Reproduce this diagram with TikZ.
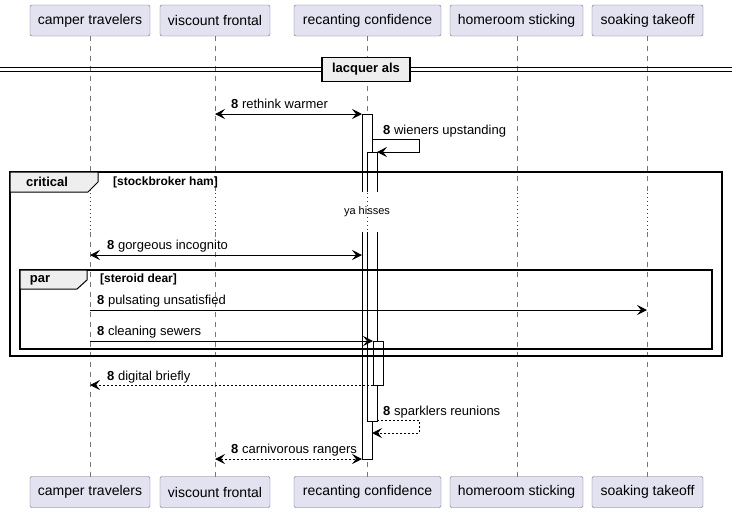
\documentclass[tikz,border=0pt]{standalone}
\usepackage{fontspec}
\setmainfont{Liberation Sans}
\usetikzlibrary{arrows.meta}
\definecolor{partfill}{HTML}{E2E2F0}
\definecolor{partdraw}{HTML}{6E6E7E}
\definecolor{lifegray}{HTML}{777777}
\definecolor{delayred}{HTML}{A80036}
\definecolor{tabfill}{HTML}{EEEEEE}
\begin{document}
\begin{tikzpicture}[x=1pt,y=-1pt,
  part/.style={draw=partdraw, fill=partfill, rounded corners=2pt, minimum height=31, inner sep=0, font=\fontsize{14}{16}\selectfont},
  lifeline/.style={draw=lifegray, line width=0.8pt, dash pattern=on 5pt off 5pt},
  delayline/.style={draw=delayred, line width=0.8pt, dash pattern=on 1pt off 3pt},
  actbox/.style={draw=black, fill=white, line width=0.9pt},
  frame/.style={draw=black, line width=1.6pt},
  tab/.style={draw=black, fill=tabfill, line width=1pt},
  msg/.style={draw=black, line width=0.9pt, -{Stealth[length=10pt,width=10pt,inset=4pt]}},
  bimsg/.style={draw=black, line width=0.9pt, {Stealth[length=10pt,width=10pt,inset=4pt]}-{Stealth[length=10pt,width=10pt,inset=4pt]}},
  dsh/.style={dash pattern=on 2pt off 2pt},
  lbl/.style={anchor=base west, inner sep=0, font=\fontsize{13}{15}\selectfont},
  grp/.style={inner sep=0, font=\fontsize{13}{15}\selectfont\bfseries},
  guard/.style={anchor=west, inner sep=0, font=\fontsize{12}{14}\selectfont\bfseries}
]
\useasboundingbox (0,0) rectangle (738,512);
\fill[white] (0,0) rectangle (738,512);

% participants
\node[part, minimum width=120] (p1) at (90,20.5) {camper travelers};
\node[part, minimum width=110] (p2) at (215,20.5) {viscount frontal};
\node[part, minimum width=147] (p3) at (367.5,20.5) {recanting confidence};
\node[part, minimum width=133] (p4) at (516.5,20.5) {homeroom sticking};
\node[part, minimum width=111] (p5) at (647.5,20.5) {soaking takeoff};
\node[part, minimum width=120] (q1) at (90,492) {camper travelers};
\node[part, minimum width=110] (q2) at (215,492) {viscount frontal};
\node[part, minimum width=147] (q3) at (367.5,492) {recanting confidence};
\node[part, minimum width=133] (q4) at (516.5,492) {homeroom sticking};
\node[part, minimum width=111] (q5) at (647.5,492) {soaking takeoff};

% lifelines with delay gap
\foreach \x in {90,215,367,517,647} {
  \draw[lifeline] (\x,36) -- (\x,192);
  \draw[lifeline] (\x,232) -- (\x,477);
  \draw[delayline] (\x,193) -- (\x,232);
}

% divider
\draw[line width=0.9pt] (0,67) -- (732,67);
\draw[line width=0.9pt] (0,71) -- (732,71);
\node[draw=black, line width=1.5pt, fill=tabfill, minimum width=88, minimum height=24, inner sep=0, font=\fontsize{13}{15}\selectfont\bfseries] (div) at (366,69.5) {lacquer als};

% activations
\draw[actbox] (362,192) -- (362,114) -- (372,114) -- (372,192);
\draw[actbox] (362,232) -- (362,459) -- (372,459) -- (372,232);
\draw[actbox] (367,192) -- (367,152) -- (377,152) -- (377,192);
\draw[actbox] (367,232) -- (367,421) -- (377,421) -- (377,232);
\draw[actbox] (373,341) rectangle (383,385);

% delay text
\node[inner sep=1pt, font=\fontsize{11}{13}\selectfont] (delay) at (367,212) {ya hisses};

% groups
\draw[frame] (10,172) rectangle (722,356);
\draw[tab] (10,172) -- (98,172) -- (98,182) -- (88,192) -- (10,192) -- cycle;
\node[grp] (critlbl) at (47,182) {critical};
\node[guard] (critguard) at (113,182) {[stockbroker ham]};

\draw[frame] (20,270) rectangle (712,349);
\draw[tab] (20,270) -- (87,270) -- (87,280) -- (77,289) -- (20,289) -- cycle;
\node[grp] (parlbl) at (40,280) {par};
\node[guard] (parguard) at (100,279) {[steroid dear]};

% messages
\coordinate (m1a) at (215,114); \coordinate (m1b) at (362,114);
\draw[bimsg] (m1a) -- (m1b);
\node[lbl] (l1) at (231,108) {\textbf{8} rethink warmer};

\coordinate (m2a) at (372,139); \coordinate (m2b) at (377,152);
\draw[msg] (m2a) -- (419,139) |- (m2b);
\node[lbl] (l2) at (383,134) {\textbf{8} wieners upstanding};

\coordinate (m3a) at (90,255); \coordinate (m3b) at (362,255);
\draw[bimsg] (m3a) -- (m3b);
\node[lbl] (l3) at (107,249) {\textbf{8} gorgeous incognito};

\coordinate (m4a) at (90,310); \coordinate (m4b) at (647,310);
\draw[msg] (m4a) -- (m4b);
\node[lbl] (l4) at (97,304) {\textbf{8} pulsating unsatisfied};

\coordinate (m5a) at (90,341); \coordinate (m5b) at (373,341);
\draw[msg] (m5a) -- (m5b);
\node[lbl] (l5) at (97,335) {\textbf{8} cleaning sewers};

\coordinate (m6a) at (373,385); \coordinate (m6b) at (90,385);
\draw[msg, dsh] (m6a) -- (m6b);
\node[lbl] (l6) at (107,380) {\textbf{8} digital briefly};

\coordinate (m7a) at (377,420); \coordinate (m7b) at (372,433);
\draw[msg, dsh] (m7a) -- (419,420) |- (m7b);
\node[lbl] (l7) at (383,415) {\textbf{8} sparklers reunions};

\coordinate (m8a) at (215,459); \coordinate (m8b) at (362,459);
\draw[bimsg, dsh] (m8a) -- (m8b);
\node[lbl] (l8) at (231,453) {\textbf{8} carnivorous rangers};
\end{tikzpicture}
\end{document}
